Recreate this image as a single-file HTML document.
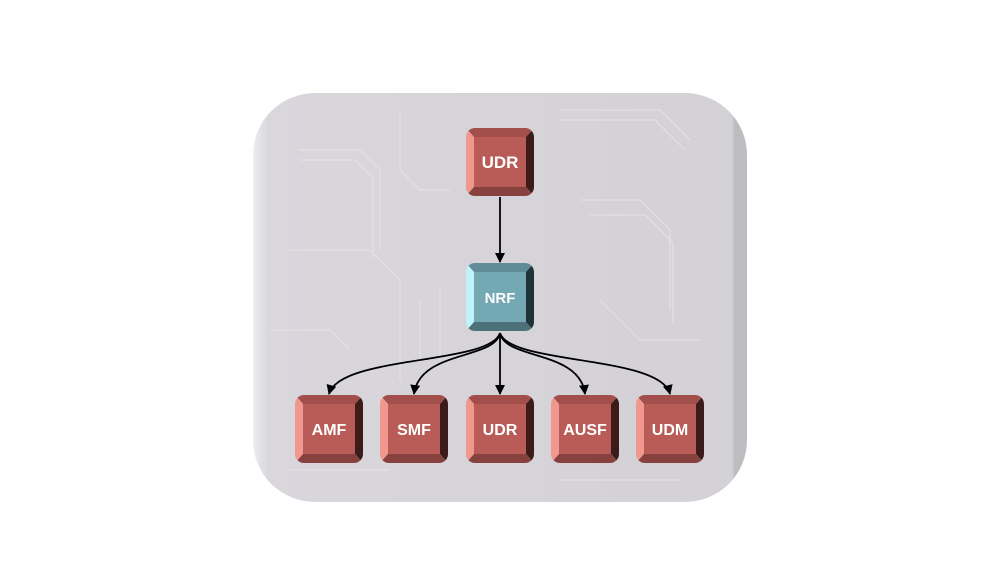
<!DOCTYPE html>
<html><head><style>
html,body{margin:0;padding:0;background:#fff;width:1000px;height:563px;overflow:hidden}
text{font-family:"Liberation Sans",sans-serif;font-weight:bold;fill:#fff}
</style></head><body>
<svg width="1000" height="563" viewBox="0 0 1000 563" xmlns="http://www.w3.org/2000/svg">
<defs>
<linearGradient id="bg" x1="0" y1="0" x2="1" y2="0">
<stop offset="0" stop-color="#eeedf0"/><stop offset="0.03" stop-color="#d9d7dc"/>
<stop offset="0.97" stop-color="#d3d1d5"/><stop offset="0.975" stop-color="#bdbcbf"/><stop offset="1" stop-color="#bebdc0"/>
</linearGradient>
<marker id="ah" markerWidth="10" markerHeight="10" refX="9" refY="5" orient="auto" markerUnits="userSpaceOnUse">
<path d="M0,0 L10,5 L0,10 Z" fill="#000"/>
</marker>
<clipPath id="cp"><rect x="0" y="0" width="68" height="68" rx="9"/></clipPath>
<g id="red">
<g clip-path="url(#cp)">
<polygon points="0,0 68,0 60,9 8,9" fill="#a24e4a"/>
<polygon points="0,0 8,9 8,59 0,68" fill="#f0978e"/>
<polygon points="68,0 60,9 60,59 68,68" fill="#3b1c1b"/>
<polygon points="0,68 8,59 60,59 68,68" fill="#874240"/>
<rect x="8" y="9" width="52" height="50" fill="#b95c57"/>
</g>
</g>
<g id="blue">
<g clip-path="url(#cp)">
<polygon points="0,0 68,0 60,9 8,9" fill="#5f8c96"/>
<polygon points="0,0 8,9 8,59 0,68" fill="#bff3fb"/>
<polygon points="68,0 60,9 60,59 68,68" fill="#1f3338"/>
<polygon points="0,68 8,59 60,59 68,68" fill="#4d7179"/>
<rect x="8" y="9" width="52" height="50" fill="#74a8b3"/>
</g>
</g>
</defs>
<rect x="253" y="93" width="494" height="409" rx="62" fill="url(#bg)"/>
<g stroke="#e6e4e8" stroke-width="1.2" fill="none" opacity="0.8">
<path d="M300,150 h60 l20,20 v80"/><path d="M300,160 h55 l18,18 v80"/><path d="M290,250 h80 l30,30 v100"/>
<path d="M400,110 v60 l20,20 h30"/><path d="M560,110 h100 l30,30"/><path d="M560,120 h95 l30,30"/>
<path d="M580,200 h60 l30,30 v80"/><path d="M590,215 h55 l28,28 v80"/><path d="M420,300 v60"/><path d="M440,290 v70"/>
<path d="M270,330 h60 l20,20"/><path d="M600,300 l40,40 h60"/><path d="M290,470 h100"/><path d="M560,480 h120"/>
</g>
<g stroke="#000" stroke-width="1.8" fill="none">
<path d="M500,197 V262" marker-end="url(#ah)"/>
<path d="M500,333 V394" marker-end="url(#ah)"/>
<path d="M500,333 C490,365 340,355 329,394" marker-end="url(#ah)"/>
<path d="M500,333 C495,360 420,350 414,394" marker-end="url(#ah)"/>
<path d="M500,333 C505,360 580,350 585,394" marker-end="url(#ah)"/>
<path d="M500,333 C510,365 660,355 670,394" marker-end="url(#ah)"/>
</g>
<use href="#red" x="466" y="128"/><text x="500" y="168" font-size="17" text-anchor="middle">UDR</text>
<use href="#blue" x="466" y="263"/><text x="500" y="303" font-size="15" text-anchor="middle">NRF</text>
<use href="#red" x="295" y="395"/><text x="329" y="435" font-size="16" text-anchor="middle">AMF</text>
<use href="#red" x="380" y="395"/><text x="414" y="435" font-size="16" text-anchor="middle">SMF</text>
<use href="#red" x="466" y="395"/><text x="500" y="435" font-size="16" text-anchor="middle">UDR</text>
<use href="#red" x="551" y="395"/><text x="585" y="435" font-size="16" text-anchor="middle">AUSF</text>
<use href="#red" x="636" y="395"/><text x="670" y="435" font-size="16" text-anchor="middle">UDM</text>
</svg>
</body></html>
